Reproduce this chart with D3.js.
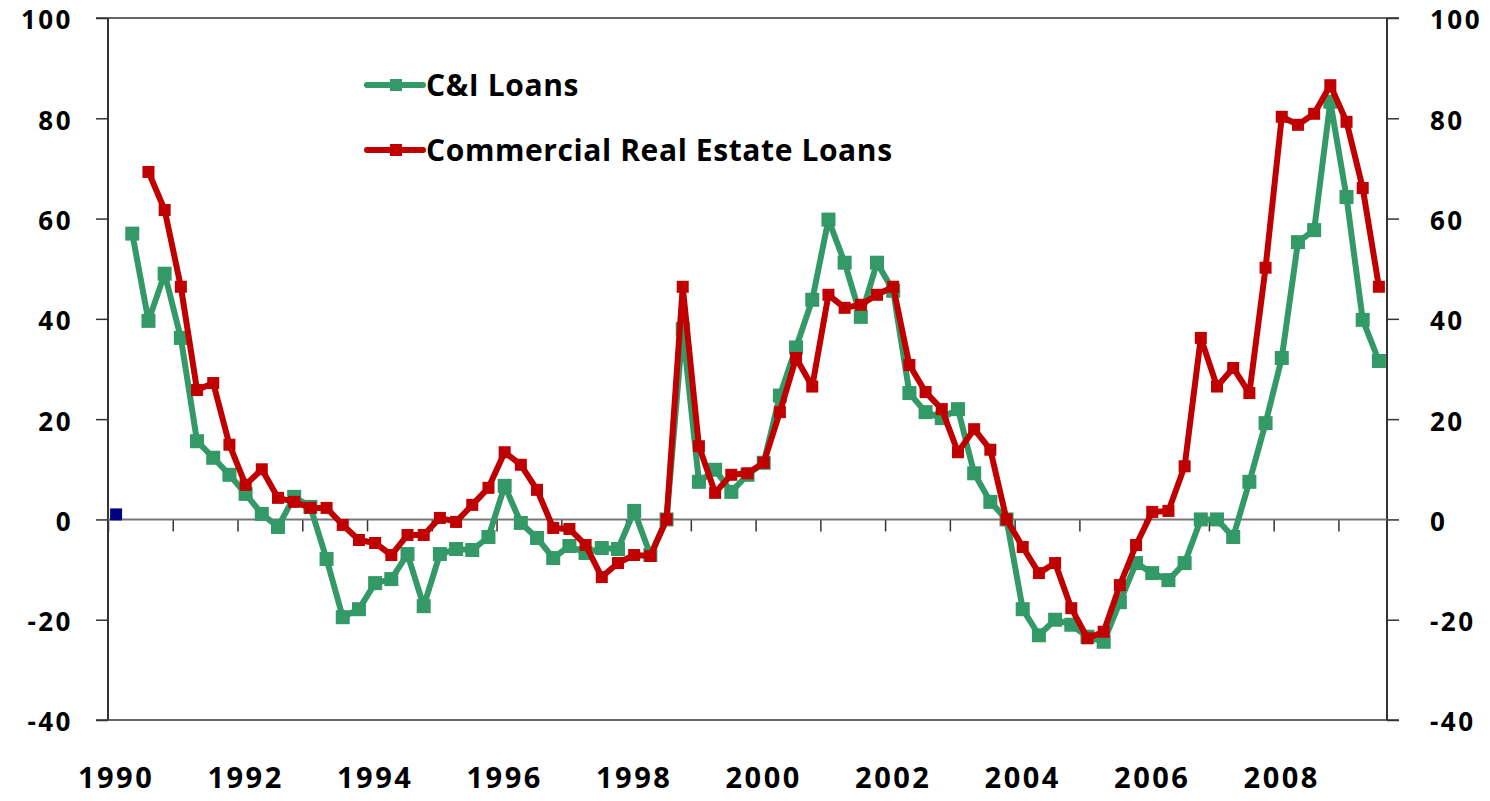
<!DOCTYPE html>
<html>
<head>
<meta charset="utf-8">
<script src="https://cdn.jsdelivr.net/npm/d3@7"></script>
<style>
  body { margin: 0; background: #fff; }
  text { font-family: "Open Sans", sans-serif; font-weight: bold; fill: #000; }
  .domain { display: none; }
</style>
</head>
<body>
<div id="chart"></div>
<script>
// quarterly data, 1990Q1 - 2009Q3 (79 quarters); null = no value
var startYear = 1990;
var numQuarters = 79;

var yearLabels = ["1990", "1992", "1994", "1996", "1998", "2000", "2002", "2004", "2006", "2008"];
var yTicks = [-40, -20, 0, 20, 40, 60, 80, 100];

var ciLoans = [null, 57, 39.6, 49, 36.2, 15.6, 12.3, 8.9, 5.1, 1.1,
  -1.5, 4.5, 2.5, -7.9, -19.5, -17.9, -12.7, -11.9, -6.9, -17.3,
  -6.9, -5.9, -6.1, -3.5, 6.7, -0.7, -3.7, -7.7, -5.3, -6.7,
  -5.7, -5.9, 1.7, -7.1, 0, 38, 7.5, 9.9, 5.5, 8.9,
  11.3, 24.7, 34.3, 43.8, 59.8, 51.2, 40.4, 51.2, 45.6, 25.2,
  21.4, 20.2, 22, 9.2, 3.5, 0, -17.9, -23.1, -20, -21,
  -23.4, -24.4, -16.5, -8.7, -10.7, -12.1, -8.7, 0, 0, -3.5,
  7.5, 19.2, 32.2, 55.3, 57.7, 83.3, 64.3, 39.8, 31.6];

var creLoans = [null, null, 69.3, 61.7, 46.4, 25.8, 27.2, 14.9, 6.9, 10,
  4.3, 3.5, 2.3, 2.3, -1.1, -4.1, -4.7, -7.1, -3.1, -3.1,
  0.3, -0.5, 2.9, 6.3, 13.4, 10.9, 5.9, -1.7, -1.9, -5.1,
  -11.5, -8.7, -7.1, -7.3, 0, 46.4, 14.6, 5.3, 8.9, 9.2,
  11.3, 21.4, 32.2, 26.5, 44.8, 42.2, 42.8, 44.8, 46.4, 30.8,
  25.4, 22, 13.4, 18, 13.9, 0, -5.5, -10.7, -8.7, -17.7,
  -23.7, -22.4, -13.1, -5.1, 1.5, 1.7, 10.6, 36.2, 26.5, 30.2,
  25.2, 50.2, 80.3, 78.7, 80.9, 86.6, 79.3, 66.1, 46.4];

// lone point in the first quarter
var firstPoint = [{ i: 0, v: 1 }];

var svgWidth = 1490;
var svgHeight = 801;
var plotLeft = 108, plotRight = 1387, plotTop = 18, plotBottom = 720;

var svg = d3.select("#chart")
  .append("svg")
  .attr("width", svgWidth)
  .attr("height", svgHeight);

var idx = d3.range(numQuarters);

var xBand = d3.scaleBand()
  .domain(idx)
  .range([plotLeft, plotRight]);

var xEdge = d3.scaleLinear()
  .domain([0, numQuarters])
  .range([plotLeft, plotRight]);

var yScale = d3.scaleLinear()
  .domain([-40, 100])
  .range([plotBottom, plotTop]);

var xMid = i => xBand(i) + xBand.bandwidth() / 2;

// plot border top/bottom
svg.append("line")
  .attr("x1", plotLeft - 12).attr("x2", plotRight + 12)
  .attr("y1", plotTop).attr("y2", plotTop)
  .attr("stroke", "#333").attr("stroke-width", 1.5);

svg.append("line")
  .attr("x1", plotLeft - 12).attr("x2", plotRight + 12)
  .attr("y1", plotBottom).attr("y2", plotBottom)
  .attr("stroke", "#333").attr("stroke-width", 1.5);

// left and right axes
var leftAxis = d3.axisLeft(yScale).tickValues(yTicks).tickSize(12).tickPadding(23)
  .tickSizeOuter(0).tickFormat(d => String(d));
var rightAxis = d3.axisRight(yScale).tickValues(yTicks).tickSize(12).tickPadding(31)
  .tickSizeOuter(0).tickFormat(d => String(d));

var gl = svg.append("g").attr("transform", `translate(${plotLeft},0)`).call(leftAxis);
var gr = svg.append("g").attr("transform", `translate(${plotRight},0)`).call(rightAxis);

[gl, gr].forEach(function(g) {
  g.selectAll("line").attr("stroke", "#333").attr("stroke-width", 1.5);
  g.selectAll("text")
    .style("font-size", "26px")
    .style("letter-spacing", "2.5px")
    .attr("dy", "0.42em");
});

svg.append("line")
  .attr("x1", plotLeft).attr("x2", plotLeft)
  .attr("y1", plotTop).attr("y2", plotBottom)
  .attr("stroke", "#333").attr("stroke-width", 2);

svg.append("line")
  .attr("x1", plotRight).attr("x2", plotRight)
  .attr("y1", plotTop).attr("y2", plotBottom)
  .attr("stroke", "#333").attr("stroke-width", 2);

// zero line with year tick marks
var zeroAxis = d3.axisBottom(xEdge)
  .tickValues(d3.range(0, numQuarters, 4))
  .tickSize(12)
  .tickSizeOuter(0)
  .tickFormat("");

var gz = svg.append("g")
  .attr("transform", `translate(0,${yScale(0)})`)
  .call(zeroAxis);
gz.selectAll("line").attr("stroke", "#333").attr("stroke-width", 1.5);

svg.append("line")
  .attr("x1", plotLeft).attr("x2", plotRight)
  .attr("y1", yScale(0)).attr("y2", yScale(0))
  .attr("stroke", "#777").attr("stroke-width", 2);

// year labels at category centres, every 8 quarters
var labelAxis = d3.axisBottom(xBand)
  .tickValues(d3.range(0, numQuarters, 8))
  .tickSize(0)
  .tickFormat((d, k) => yearLabels[k]);

var gx = svg.append("g")
  .attr("transform", `translate(0,${plotBottom})`)
  .call(labelAxis);
gx.selectAll("text")
  .style("font-size", "29px")
  .style("letter-spacing", "2.5px")
  .attr("y", 47);

// series
var series = [
  { name: "C&I Loans", values: ciLoans, color: "#339966", size: 14 },
  { name: "Commercial Real Estate Loans", values: creLoans, color: "#C00000", size: 12 }
];

var line = d3.line()
  .defined(d => d.v != null)
  .x(d => xMid(d.i))
  .y(d => yScale(d.v));

series.forEach(function(s) {
  var pts = s.values.map((v, i) => ({ i: i, v: v }));
  svg.append("path")
    .datum(pts)
    .attr("fill", "none")
    .attr("stroke", s.color)
    .attr("stroke-width", 6)
    .attr("stroke-linejoin", "round")
    .attr("d", line);

  svg.selectAll(null)
    .data(pts.filter(d => d.v != null))
    .enter()
    .append("rect")
    .attr("x", d => xMid(d.i) - s.size / 2)
    .attr("y", d => yScale(d.v) - s.size / 2)
    .attr("width", s.size)
    .attr("height", s.size)
    .attr("fill", s.color);
});

svg.selectAll(null)
  .data(firstPoint)
  .enter()
  .append("rect")
  .attr("x", d => xMid(d.i) - 6)
  .attr("y", d => yScale(d.v) - 6)
  .attr("width", 12)
  .attr("height", 12)
  .attr("fill", "#000080");

// legend
var legend = svg.append("g").attr("transform", "translate(367,85)");
series.forEach(function(s, k) {
  var g = legend.append("g").attr("transform", `translate(0,${k * 65})`);
  g.append("line")
    .attr("x1", 0).attr("x2", 56)
    .attr("stroke", s.color).attr("stroke-width", 6)
    .attr("stroke-linecap", "round");
  g.append("rect")
    .attr("x", 23).attr("y", -6)
    .attr("width", 12).attr("height", 12)
    .attr("fill", s.color);
  g.append("text")
    .attr("x", 59).attr("y", 11)
    .style("font-size", "30px")
    .style("letter-spacing", "0.6px")
    .text(s.name);
});
</script>
</body>
</html>
